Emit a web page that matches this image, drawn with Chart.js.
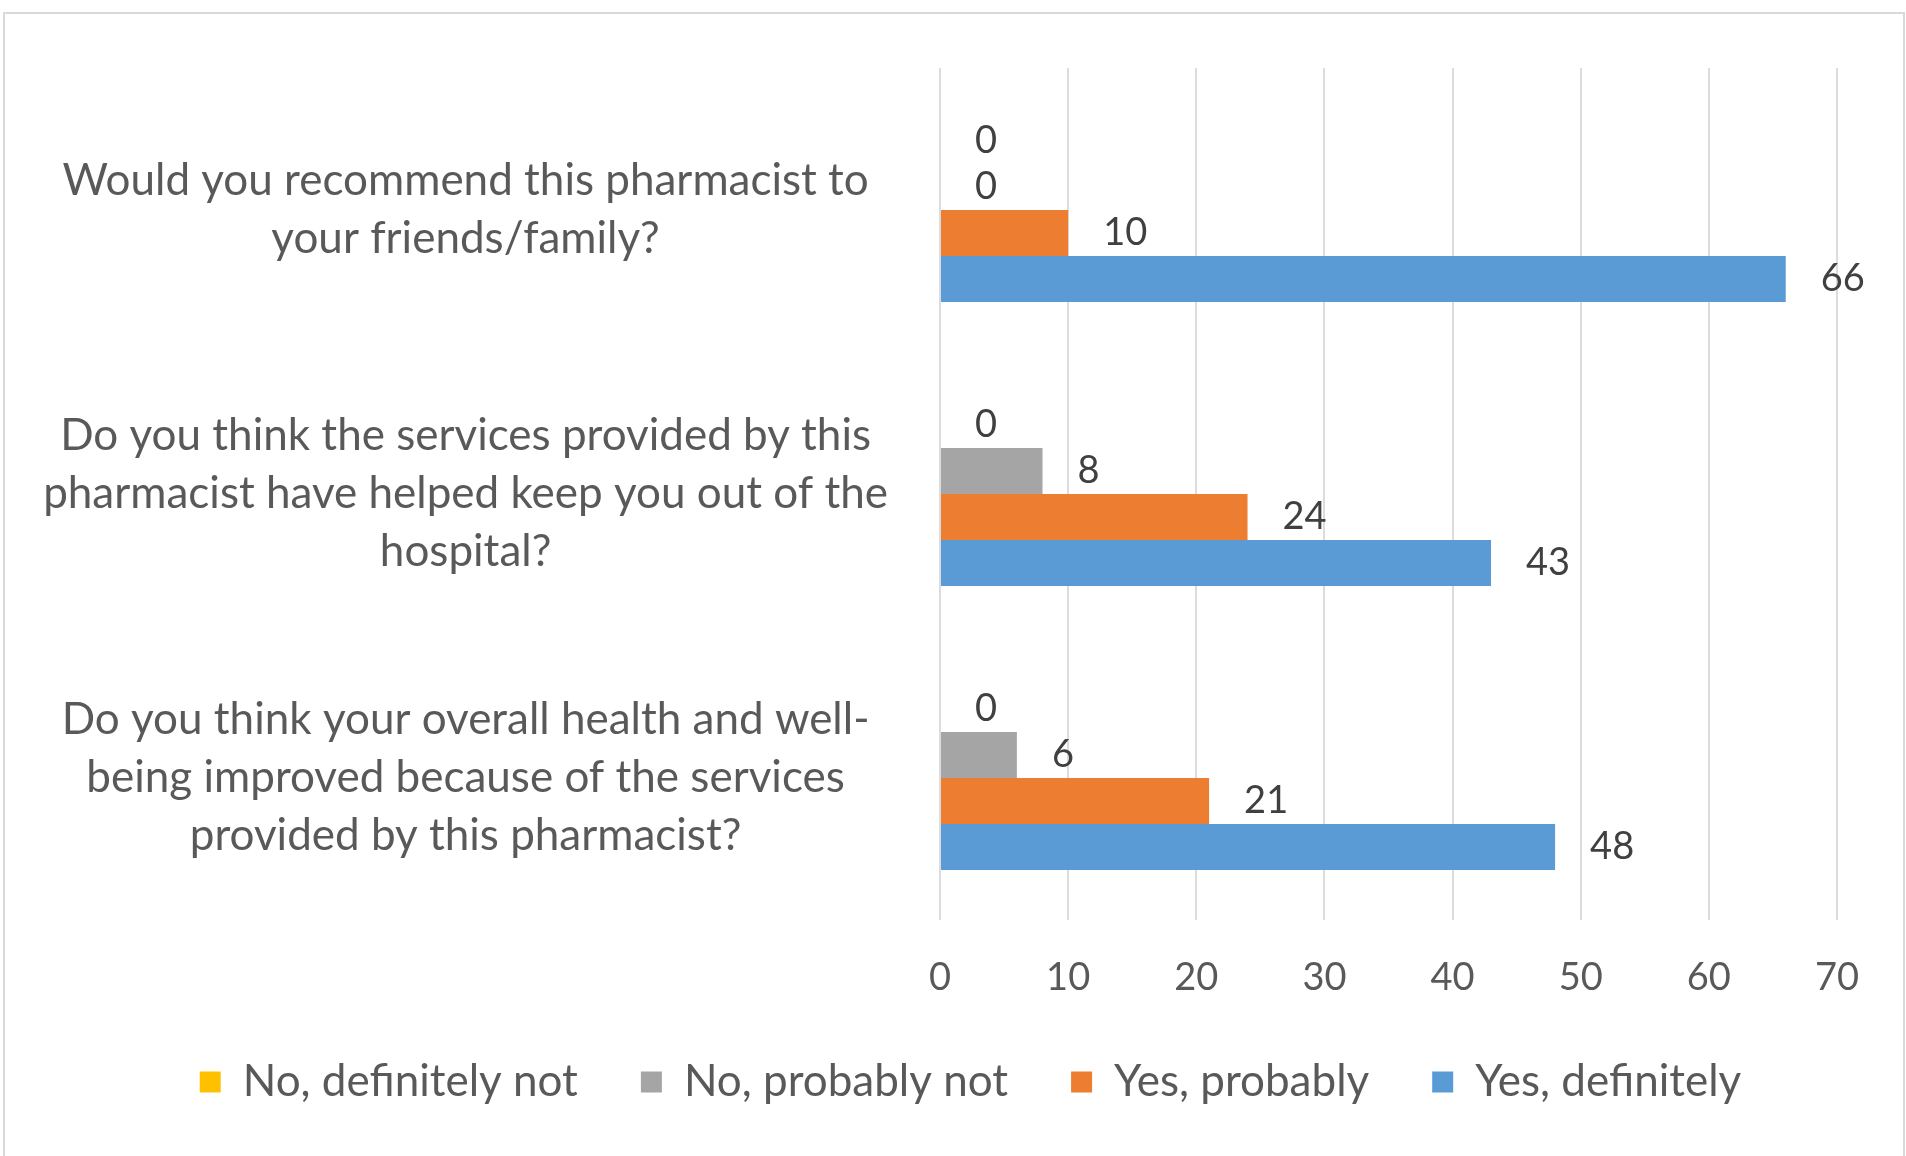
<!DOCTYPE html>
<html>
<head>
<meta charset="utf-8">
<script src="https://cdn.jsdelivr.net/npm/chart.js@4.4.1/dist/chart.umd.min.js"></script>
<style>
    html, body { margin: 0; padding: 0; background: #fff; }
    #wrap { position: relative; width: 1906px; height: 1156px; overflow: hidden; }
    #frame {
        position: absolute; left: 3px; top: 12px; width: 1898px; height: 1160px;
        border: 2px solid #d9d9d9; pointer-events: none;
    }
</style>
</head>
<body>
<div id="wrap">
    <canvas id="chartSurvey"></canvas>
    <div id="frame"></div>
</div>
<script>
var categories = [
    ['Would you recommend this pharmacist to', 'your friends/family?'],
    ['Do you think the services provided by this', 'pharmacist have helped keep you out of the', 'hospital?'],
    ['Do you think your overall health and well-', 'being improved because of the services', 'provided by this pharmacist?']
];

var seriesNames = ['No, definitely not', 'No, probably not', 'Yes, probably', 'Yes, definitely'];
var noDefinitelyNot = [0, 0, 0];
var noProbablyNot = [0, 8, 6];
var yesProbably = [10, 24, 21];
var yesDefinitely = [66, 43, 48];

var axisMin = 0;
var axisMax = 70;
var axisStep = 10;

var colors = ['#FFC000', '#A5A5A5', '#ED7D31', '#5B9BD5'];
var textColor = '#595959';
var fontFamily = 'Lato, "Open Sans", sans-serif';

// scrive il valore a destra di ogni barra
var valueLabels = {
    id: 'valueLabels',
    afterDatasetsDraw: function(chart) {
        var ctx = chart.ctx;
        ctx.save();
        ctx.font = '38px ' + fontFamily;
        ctx.fillStyle = '#404040';
        ctx.textAlign = 'left';
        ctx.textBaseline = 'middle';
        chart.data.datasets.forEach(function(ds, i) {
            var meta = chart.getDatasetMeta(i);
            meta.data.forEach(function(bar, j) {
                ctx.fillText(String(ds.data[j]), bar.x + 35, bar.y);
            });
        });
        ctx.restore();
    }
};

// sposta la legenda un po' a destra, sotto al grafico
var legendShift = {
    id: 'legendShift',
    afterLayout: function(chart) {
        if (chart.legend) {
            chart.legend.left += 52;
            chart.legend.right += 52;
        }
    }
};

var series = [noDefinitelyNot, noProbablyNot, yesProbably, yesDefinitely];
var datasets = [];
for (var i = 0; i < series.length; i++) {
    datasets.push({
        label: seriesNames[i],
        data: series[i],
        backgroundColor: colors[i],
        borderWidth: 0,
        categoryPercentage: 0.648,
        barPercentage: 1.0
    });
}

var ctx = document.getElementById('chartSurvey').getContext('2d');
var chart = new Chart(ctx, {
    type: 'bar',
    data: { labels: categories, datasets: datasets },
    plugins: [valueLabels, legendShift],
    options: {
        indexAxis: 'y',
        responsive: true,
        maintainAspectRatio: false,
        animation: false,
        layout: { padding: { top: 68, right: 69, bottom: 42, left: 0 } },
        plugins: {
            tooltip: { enabled: false },
            legend: {
                position: 'bottom',
                labels: {
                    boxWidth: 21,
                    boxHeight: 21,
                    padding: 63,
                    color: textColor,
                    font: { family: fontFamily, size: 44 }
                }
            }
        },
        scales: {
            x: {
                min: axisMin,
                max: axisMax,
                ticks: {
                    stepSize: axisStep,
                    padding: 35,
                    color: textColor,
                    font: { family: fontFamily, size: 38 }
                },
                grid: { color: '#dcdcdc', lineWidth: 2, drawTicks: false },
                border: { display: false },
                afterFit: function(scale) { scale.height = 77; }
            },
            y: {
                ticks: {
                    crossAlign: 'center',
                    padding: 44,
                    color: textColor,
                    font: { family: fontFamily, size: 44, lineHeight: 1.32 }
                },
                grid: { display: false },
                border: { display: false },
                afterFit: function(scale) {
                    scale.width = 940;
                    scale.paddingTop = 0;
                    scale.paddingBottom = 0;
                }
            }
        }
    }
});
</script>
</body>
</html>
